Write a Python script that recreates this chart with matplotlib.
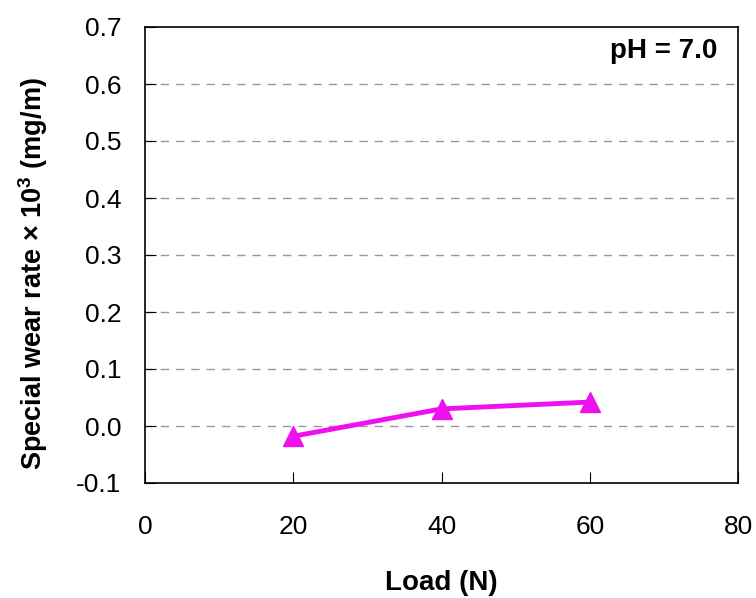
import matplotlib.pyplot as plt

plt.rcParams['font.family'] = ['Liberation Sans', 'DejaVu Sans']
plt.rcParams['mathtext.fontset'] = 'custom'
plt.rcParams['mathtext.rm'] = 'Liberation Sans'
plt.rcParams['mathtext.bf'] = 'Liberation Sans:bold'

load = [20, 40, 60]
wear = [-0.018, 0.030, 0.042]
xticks = [0, 20, 40, 60, 80]
yticks = [-0.1, 0.0, 0.1, 0.2, 0.3, 0.4, 0.5, 0.6, 0.7]

fig = plt.figure(figsize=(7.56, 5.98), dpi=100)
ax = fig.add_axes([145/756, 1-483/598, (738-145)/756, (483-27)/598])

# dashed gridlines, not at the axis limits
for y in yticks[1:-1]:
    ax.axhline(y, color='#999999', lw=1, ls=(0, (6, 5)), zorder=1)

ax.plot(load, wear, color='#EE10EE', lw=3.5, marker='^', markersize=14, zorder=3)

ax.set_xlim(0, 80)
ax.set_ylim(-0.1, 0.7)
ax.set_xticks(xticks)
ax.set_yticks(yticks)
ax.set_yticklabels([f"{v:.1f}" for v in yticks])
ax.tick_params(axis='x', direction='in', length=8, pad=23, labelsize=19)
ax.tick_params(axis='y', direction='in', length=8, pad=17, labelsize=19)
ax.tick_params(top=False, right=False)
for s in ax.spines.values():
    s.set_linewidth(1.2)

ax.set_xlabel("Load (N)", fontsize=20, fontweight='bold', labelpad=22)
ax.set_ylabel("Special wear rate \u00d7 10$^{\\mathbf{3}}$ (mg/m)", fontsize=19.5,
              fontweight='bold', labelpad=19)
ax.yaxis.label.set_y(0.46)
ax.text(0.966, 0.932, "pH = 7.0", transform=ax.transAxes, ha='right', va='baseline',
        fontsize=20, fontweight='bold')

fig.savefig("out.png", dpi=100)
